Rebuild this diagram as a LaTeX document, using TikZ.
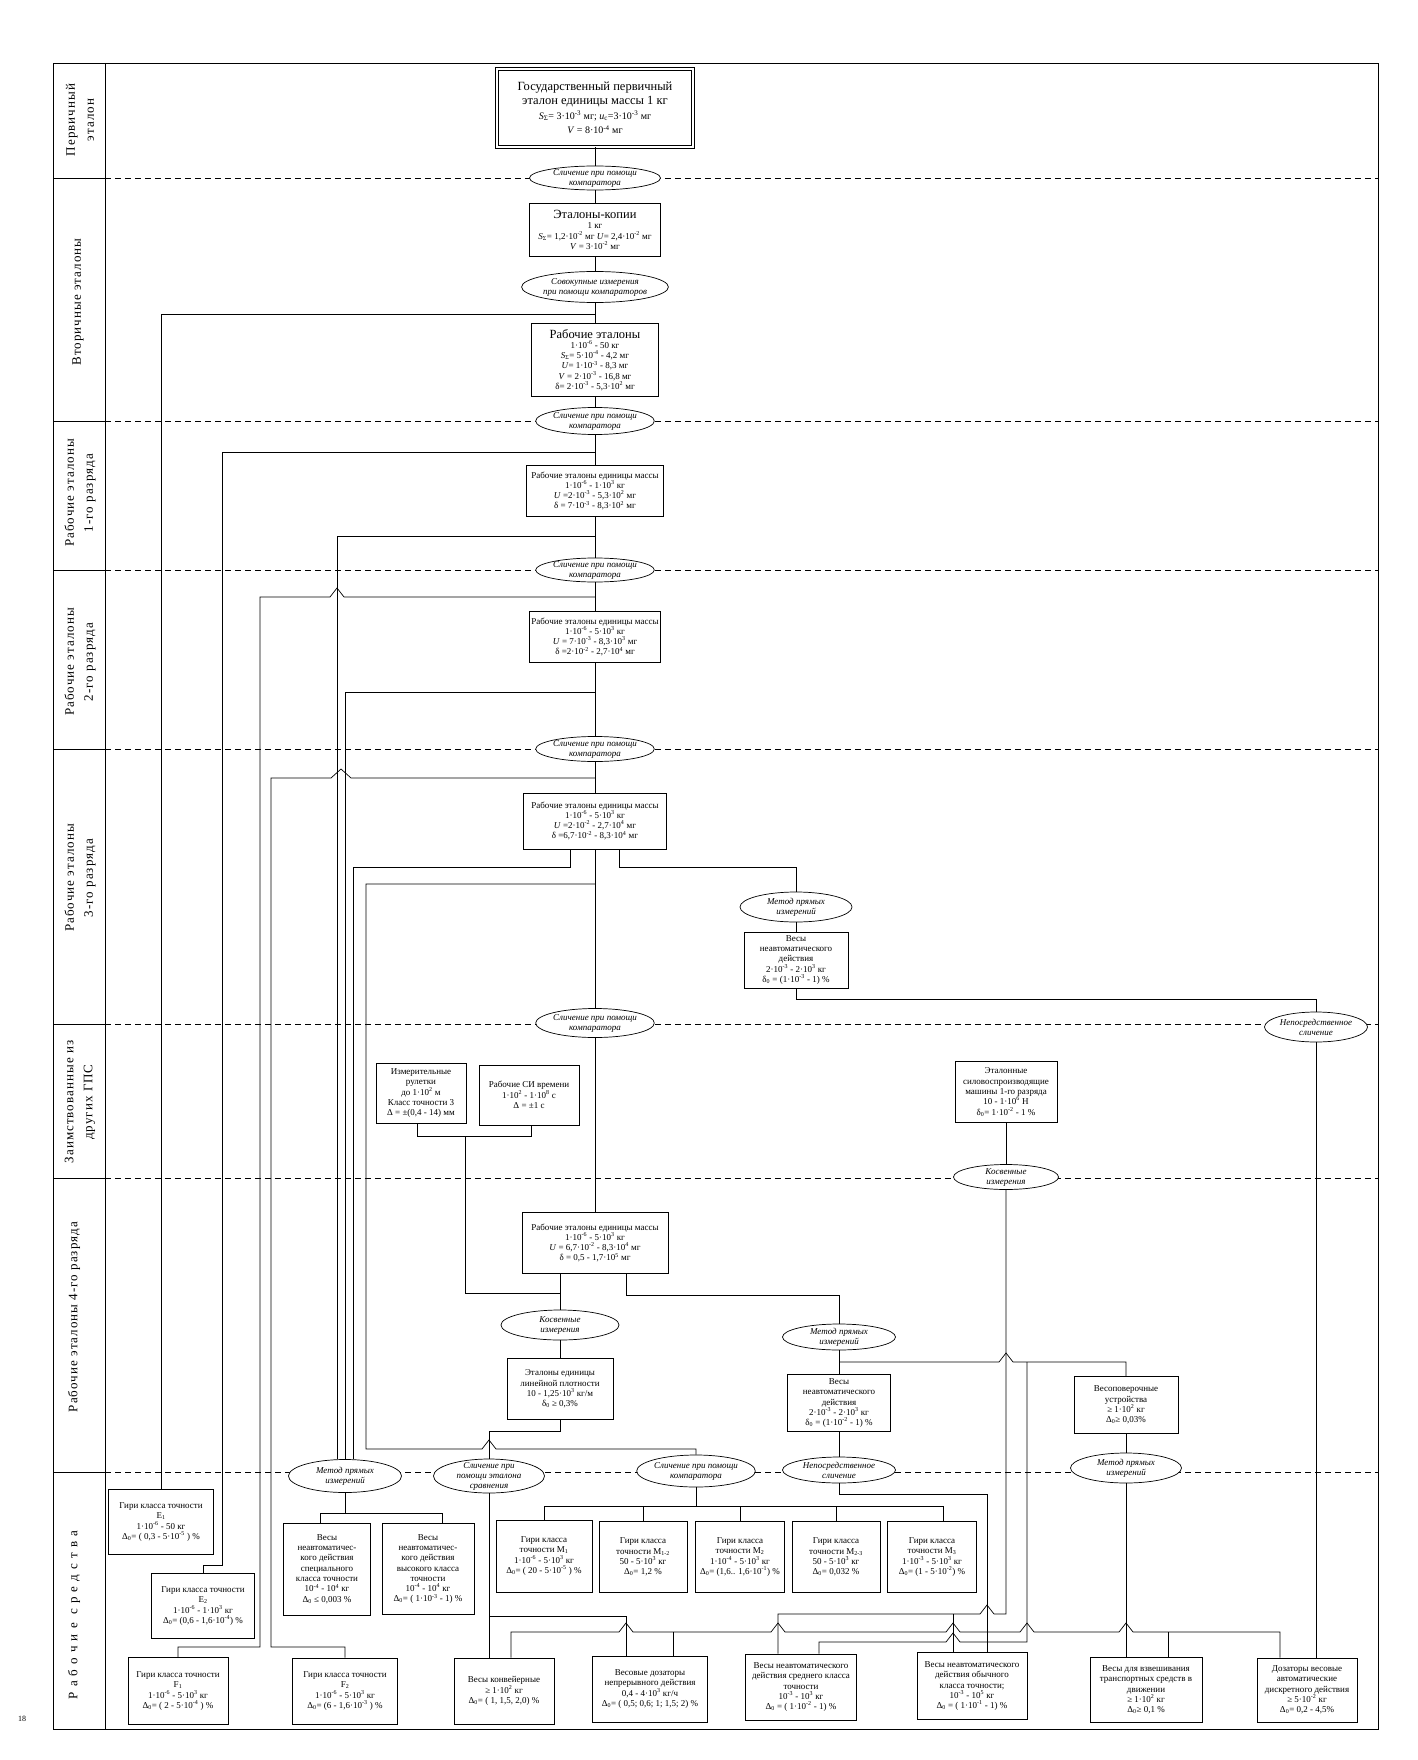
\documentclass[tikz,border=0pt]{standalone}
\usepackage{fontspec}
\setmainfont{Liberation Serif}
\newfontfamily\lanefam[LetterSpace=8]{Liberation Serif}
\usetikzlibrary{shapes.geometric}

\newcommand{\pw}[1]{\textsuperscript{#1}}
\newcommand{\ix}[1]{\textsubscript{#1}}
\newcommand{\boxfont}{\fontsize{9}{10.3}\selectfont}
\newcommand{\ovalfont}{\itshape\fontsize{9}{10}\selectfont}
\newcommand{\bigfont}{\fontsize{12.5}{14.5}\selectfont}
\newcommand{\midfont}{\fontsize{10}{12}\selectfont}
\newcommand{\lanefont}{\lanefam\fontsize{13}{19}\selectfont}

\begin{document}
\begin{tikzpicture}[x=1pt,y=-1pt,line width=0.7pt,
	box/.style={draw,fill=white,align=center,inner sep=1pt,font=\boxfont},
	dbox/.style={box,double,double distance=2pt,font=\bigfont},
	oval/.style={ellipse,draw,fill=white,align=center,inner xsep=0pt,inner ysep=-3pt,font=\ovalfont},
	lane/.style={rotate=90,align=center,font=\lanefont},
	sepline/.style={dash pattern=on 6pt off 4pt},
	hopl/.style 2 args={insert path={-- ({#1+7},#2) -- (#1,{#2-9}) -- ({#1-7},#2)}},
	hopr/.style 2 args={insert path={-- ({#1-7},#2) -- (#1,{#2-9}) -- ({#1+7},#2)}}]
			\useasboundingbox (0,0) rectangle (1417,1760);

			\draw (53,63) rectangle (1378,1729);
			\draw (105,63) -- (105,1729);
			\draw (53,178) -- (105,178);
			\draw (53,421) -- (105,421);
			\draw (53,570) -- (105,570);
			\draw (53,749) -- (105,749);
			\draw (53,1024) -- (105,1024);
			\draw (53,1178) -- (105,1178);
			\draw (53,1472) -- (105,1472);

			\draw[sepline] (105,178) -- (1378,178);
			\draw[sepline] (105,421) -- (1378,421);
			\draw[sepline] (105,570) -- (1378,570);
			\draw[sepline] (105,749) -- (1378,749);
			\draw[sepline] (105,1024) -- (1378,1024);
			\draw[sepline] (105,1178) -- (1378,1178);
			\draw[sepline] (105,1472) -- (1378,1472);

			\node[lane] (l1) at (80,120) {Первичный\\эталон};
			\node[lane] (l2) at (78,302) {Вторичные эталоны};
			\node[lane] (l3) at (80,493) {Рабочие эталоны\\1-го разряда};
			\node[lane] (l4) at (80,662) {Рабочие эталоны\\2-го разряда};
			\node[lane] (l5) at (80,878) {Рабочие эталоны\\3-го разряда};
			\node[lane] (l6) at (80,1102) {Заимствованные из\\других ГПС};
			\node[lane] (l7) at (74,1317) {Рабочие эталоны 4-го разряда};
			\node[lane,font=\lanefont\addfontfeatures{LetterSpace=40}] (l8) at (74,1615) {Рабочие средства};
			\node (pg) at (22,1719) {\fontsize{8}{9}\selectfont 18};

			\node[dbox,minimum width=196,minimum height=78] (gpe) at (595,108) {Государственный первичный\\эталон единицы  массы   1 кг\\{\midfont\textit{S}\ix{Σ}= 3·10\pw{-3} мг; \textit{u}\ix{c}=3·10\pw{-3} мг}\\{\midfont\textit{V} = 8·10\pw{-4} мг}};
			\node[oval,minimum width=131,minimum height=24] (c1) at (595,178) {Сличение при помощи\\компаратора};
			\node[box,minimum width=131,minimum height=53] (kop) at (595,230) {{\bigfont Эталоны-копии}\\1 кг\\\textit{S}\ix{Σ}= 1,2·10\pw{-2} мг  \textit{U}= 2,4·10\pw{-2} мг\\\textit{V} = 3·10\pw{-2} мг};
			\node[oval,minimum width=131,minimum height=31] (sov) at (595,287) {Совокупные измерения\\при помощи компараторов};
			\node[box,minimum width=127,minimum height=73] (rab) at (595,360) {{\bigfont Рабочие эталоны}\\1·10\pw{-6} - 50 кг\\\textit{S}\ix{Σ}= 5·10\pw{-4} - 4,2 мг\\\textit{U}= 1·10\pw{-3} - 8,3 мг\\\textit{V} = 2·10\pw{-3} - 16,8 мг\\δ= 2·10\pw{-3} - 5,3·10\pw{2} мг};
			\node[oval,minimum width=109,minimum height=27] (c2) at (595,421) {Сличение при помощи\\компаратора};
			\node[box,minimum width=137,minimum height=51] (r1) at (595,491) {Рабочие эталоны единицы массы\\1·10\pw{-6} - 1·10\pw{3} кг\\\textit{U} =2·10\pw{-3} - 5,3·10\pw{2} мг\\δ = 7·10\pw{-3} - 8,3·10\pw{2} мг};
			\node[oval,minimum width=112,minimum height=24] (c3) at (595,570) {Сличение при помощи\\компаратора};
			\node[box,minimum width=131,minimum height=51] (r2) at (595,637) {Рабочие эталоны единицы массы\\1·10\pw{-6} - 5·10\pw{3} кг\\\textit{U} = 7·10\pw{-3} - 8,3·10\pw{3} мг\\δ =2·10\pw{-2} - 2,7·10\pw{4} мг};
			\node[oval,minimum width=112,minimum height=25] (c4) at (595,749) {Сличение при помощи\\компаратора};
			\node[box,minimum width=143,minimum height=56] (r3) at (595,821) {Рабочие эталоны единицы массы\\1·10\pw{-6} - 5·10\pw{3} кг\\\textit{U} =2·10\pw{-2} - 2,7·10\pw{4} мг\\δ =6,7·10\pw{-2} - 8,3·10\pw{4} мг};
			\node[oval,minimum width=114,minimum height=29] (c5) at (595,1023) {Сличение при помощи\\компаратора};
			\node[box,minimum width=146,minimum height=61] (r4) at (595,1243) {Рабочие эталоны единицы массы\\1·10\pw{-6} - 5·10\pw{3}  кг\\\textit{U} = 6,7·10\pw{-2} -  8,3·10\pw{4} мг\\δ = 0,5 - 1,7·10\pw{5} мг};

			\node[oval,minimum width=112,minimum height=30] (mp2) at (796,907) {Метод прямых\\измерений};
			\node[box,minimum width=104,minimum height=56] (vesy1) at (796,960) {Весы\\неавтоматического\\действия\\2·10\pw{-3} - 2·10\pw{3} кг\\δ\ix{0} = (1·10\pw{-3} - 1) \%};
			\node[oval,minimum width=103,minimum height=30] (nep1) at (1316,1027) {Непосредственное\\сличение};
			\node[box,minimum width=102,minimum height=61] (sila) at (1006,1092) {Эталонные\\силовоспроизводящие\\машины 1-го разряда\\10 - 1·10\pw{6} Н\\δ\ix{0}= 1·10\pw{-2} - 1 \%};
			\node[oval,minimum width=105,minimum height=25] (kos2) at (1006,1177) {Косвенные\\измерения};
			\node[box,minimum width=90,minimum height=60] (rul) at (421,1093) {Измерительные\\рулетки\\до 1·10\pw{2} м\\Класс точности 3\\Δ = ±(0,4 - 14) мм};
			\node[box,minimum width=100,minimum height=60] (sivr) at (529,1095) {Рабочие СИ времени\\1·10\pw{2} - 1·10\pw{8} с\\Δ = ±1 с};

			\node[oval,minimum width=118,minimum height=30] (kos1) at (560,1325) {Косвенные\\измерения};
			\node[box,minimum width=106,minimum height=61] (lin) at (560,1389) {Эталоны единицы\\линейной плотности\\10 - 1,25·10\pw{3} кг/м\\δ\ix{0} ≥ 0,3\%};
			\node[oval,minimum width=113,minimum height=26] (mp3) at (839,1337) {Метод прямых\\измерений};
			\node[box,minimum width=103,minimum height=57] (vesy2) at (839,1403) {Весы\\неавтоматического\\действия\\2·10\pw{-3} - 2·10\pw{3} кг\\δ\ix{0} = (1·10\pw{-2} - 1) \%};
			\node[box,minimum width=104,minimum height=57] (vpu) at (1126,1405) {Весоповерочные\\устройства\\≥ 1·10\pw{2} кг\\Δ\ix{0}≥  0,03\%};

			\node[oval,minimum width=113,minimum height=33] (mp1) at (345,1476) {Метод прямых\\измерений};
			\node[oval,minimum width=111,minimum height=34] (ets) at (489,1476) {Сличение при\\помощи эталона\\сравнения};
			\node[oval,minimum width=111,minimum height=32] (cmp) at (696,1471) {Сличение при помощи\\компаратора};
			\node[oval,minimum width=113,minimum height=26] (nep2) at (839,1470) {Непосредственное\\сличение};
			\node[oval,minimum width=111,minimum height=30] (mp4) at (1126,1468) {Метод прямых\\измерений};

			\node[box,minimum width=105,minimum height=65] (gE1) at (161,1522) {Гири класса точности\\E\ix{1}\\1·10\pw{-6} - 50 кг\\Δ\ix{0}= ( 0,3 - 5·10\pw{-5} ) \%};
			\node[box,minimum width=103,minimum height=65] (gE2) at (203,1606) {Гири класса точности\\E\ix{2}\\1·10\pw{-6} - 1·10\pw{3} кг\\Δ\ix{0}= (0,6 - 1,6·10\pw{-4}) \%};
			\node[box,minimum width=100,minimum height=67] (gF1) at (178,1691) {Гири класса точности\\F\ix{1}\\1·10\pw{-6} - 5·10\pw{3} кг\\Δ\ix{0}= ( 2 - 5·10\pw{-4} ) \%};
			\node[box,minimum width=105,minimum height=66] (gF2) at (345,1691) {Гири класса точности\\F\ix{2}\\1·10\pw{-6} - 5·10\pw{3} кг\\Δ\ix{0}= (6 - 1,6·10\pw{-3} ) \%};
			\node[box,minimum width=87,minimum height=92] (vspec) at (327,1569) {Весы\\неавтоматичес-\\кого действия\\специального\\класса точности\\10\pw{-4} - 10\pw{4} кг\\Δ\ix{0} ≤ 0,003 \%};
			\node[box,minimum width=92,minimum height=91] (vvys) at (428,1569) {Весы\\неавтоматичес-\\кого действия\\высокого класса\\точности\\10\pw{-4} - 10\pw{4} кг\\Δ\ix{0}= ( 1·10\pw{-3} - 1) \%};
			\node[box,minimum width=96,minimum height=72] (gM1) at (544,1556) {Гири  класса\\точности  M\ix{1}\\1·10\pw{-6} - 5·10\pw{3} кг\\Δ\ix{0}= ( 20 - 5·10\pw{-5} ) \%};
			\node[box,minimum width=88,minimum height=71] (gM12) at (643,1557) {Гири  класса\\точности M\ix{1-2}\\50 - 5·10\pw{3} кг\\Δ\ix{0}=  1,2 \%};
			\node[box,minimum width=89,minimum height=71] (gM2) at (740,1557) {Гири  класса\\точности M\ix{2}\\1·10\pw{-4} - 5·10\pw{3} кг\\Δ\ix{0}= (1,6.. 1,6·10\pw{-1}) \%};
			\node[box,minimum width=88,minimum height=71] (gM23) at (836,1557) {Гири  класса\\точности M\ix{2-3}\\50 - 5·10\pw{3} кг\\Δ\ix{0}= 0,032 \%};
			\node[box,minimum width=89,minimum height=71] (gM3) at (932,1557) {Гири  класса\\точности M\ix{3}\\1·10\pw{-3} - 5·10\pw{3} кг\\Δ\ix{0}= (1 - 5·10\pw{-2}) \%};

			\node[box,minimum width=100,minimum height=66] (konv) at (504,1691) {Весы конвейерные\\≥ 1·10\pw{2}  кг\\Δ\ix{0}= ( 1, 1,5, 2,0) \%};
			\node[box,minimum width=115,minimum height=66] (dozn) at (650,1689) {Весовые дозаторы\\непрерывного действия\\0,4 - 4·10\pw{3} кг/ч\\Δ\ix{0}= ( 0,5; 0,6; 1; 1,5; 2) \%};
			\node[box,minimum width=111,minimum height=66] (sred) at (801,1687) {Весы неавтоматического\\действия среднего класса\\точности\\10\pw{-3} - 10\pw{3} кг\\Δ\ix{0} = ( 1·10\pw{-2} - 1) \%};
			\node[box,minimum width=110,minimum height=67] (obych) at (972,1686) {Весы неавтоматического\\действия обычного\\класса точности;\\10\pw{-3} - 10\pw{5} кг\\Δ\ix{0} = ( 1·10\pw{-1} - 1) \%};
			\node[box,minimum width=112,minimum height=65] (trans) at (1146,1690) {Весы для взвешивания\\транспортных средств в\\движении\\≥ 1·10\pw{2} кг\\Δ\ix{0}≥  0,1 \%};
			\node[box,minimum width=100,minimum height=64] (disk) at (1307,1690) {Дозаторы весовые\\автоматические\\дискретного действия\\≥ 5·10\pw{-2} кг\\Δ\ix{0}= 0,2 - 4,5\%};

			\coordinate (j1) at (595,314);
			\coordinate (j2) at (595,452);
			\coordinate (j3) at (595,536);
			\coordinate (j4) at (595,597);
			\coordinate (j5) at (595,692);
			\coordinate (j6) at (595,778);
			\coordinate (j7) at (595,884);
			\coordinate (j8) at (953,1614);
			\coordinate (j9) at (839,1362);
			\coordinate (j10) at (1027,1362);
			\coordinate (j11) at (489,1616);
			\coordinate (j12) at (465,1136);
			\coordinate (j13) at (560,1293);
			\coordinate (j14) at (345,1513);
			\coordinate (j15) at (696,1506);

			\draw (gpe) -- (c1);
			\draw (c1) -- (kop);
			\draw (kop) -- (sov);
			\draw (sov) -- (rab);
			\draw (rab) -- (c2);
			\draw (c2) -- (r1);
			\draw (r1) -- (c3);
			\draw (c3) -- (r2);
			\draw (r2) -- (c4);
			\draw (c4) -- (r3);
			\draw (r3) -- (c5);
			\draw (c5) -- (r4);

			\draw (j1) -| (gE1.north);
			\draw (j2) -| (222,1565) -| (gE2.north);
			\draw (j3) -| ([xshift=-8pt]mp1.north);
			\draw (j4) [hopl={337}{597}] -| (260,1647) -| (gF1.north);
			\draw (j5) -| (mp1.north);
			\draw (j6) -- (351,778) -- (341,769) -- (331,778) -| (271,1647) -| (gF2.north);
			\draw ([xshift=-25pt]r3.south) -- ++(0,18) -| ([xshift=8pt]mp1.north);
			\draw ([xshift=24pt]r3.south) -- ++(0,18) -| (mp2.north);
			\draw (j7) -| (366,1449) [hopr={489}{1449}] -| (cmp.north);

			\draw (mp2) -- (vesy1);
			\draw (vesy1.south) -- ++(0,11) -| (nep1.north);
			\draw (nep1.south) -- (nep1.south |- disk.north);
			\draw (sila) -- (kos2);
			\draw (kos2.south) -- (1006,1614) [hopl={987}{1614}] -| ([xshift=-23pt]sred.north);
			\draw (j8) -- ([xshift=-19pt]obych.north);

			\draw ([xshift=-4pt]rul.south) -- ++(0,13) -| ([xshift=2pt]sivr.south);
			\draw (j12) |- (j13);
			\draw ([xshift=-35pt]r4.south) -- (kos1.north);
			\draw (kos1) -- (lin);
			\draw (lin.south) -- ++(0,11) -| (ets.north);
			\draw ([xshift=31pt]r4.south) -- ++(0,21) -| (mp3.north);

			\draw (mp3) -- (vesy2);
			\draw (j9) [hopr={1006}{1362}] -| (vpu.north);
			\draw (j10) -- (1027,1642) [hopl={953}{1642}] -| ([xshift=18pt]sred.north);
			\draw (vesy2) -- (nep2);
			\draw (nep2.south) -- ++(0,11) -| ([xshift=15pt]obych.north);
			\draw (vpu) -- (mp4);
			\draw (mp4.south) -- (mp4.south |- trans.north);

			\draw (mp1) -- (j14);
			\draw (j14) -| ([xshift=-7pt]vspec.north);
			\draw (j14) -| ([xshift=14pt]vvys.north);

			\draw (cmp) -- (j15);
			\draw (j15) -| (gM1.north);
			\draw (j15) -| (gM12.north);
			\draw (j15) -| (gM2.north);
			\draw (j15) -| (gM23.north);
			\draw (j15) -| ([xshift=11pt]gM3.north);

			\draw (ets.south) -- (ets.south |- konv.north);
			\draw (j11) -| ([xshift=-24pt]dozn.north);
			\draw ([xshift=7pt]konv.north) -- (511,1632) [hopr={626}{1632}] [hopr={778}{1632}] [hopr={953}{1632}] [hopr={1027}{1632}] [hopr={1126}{1632}] -| ([xshift=-27pt]disk.north);
			\draw (673,1632) -- ([xshift=23pt]dozn.north);
			\draw (1168,1632) -- ([xshift=22pt]trans.north);
		\end{tikzpicture}
\end{document}
